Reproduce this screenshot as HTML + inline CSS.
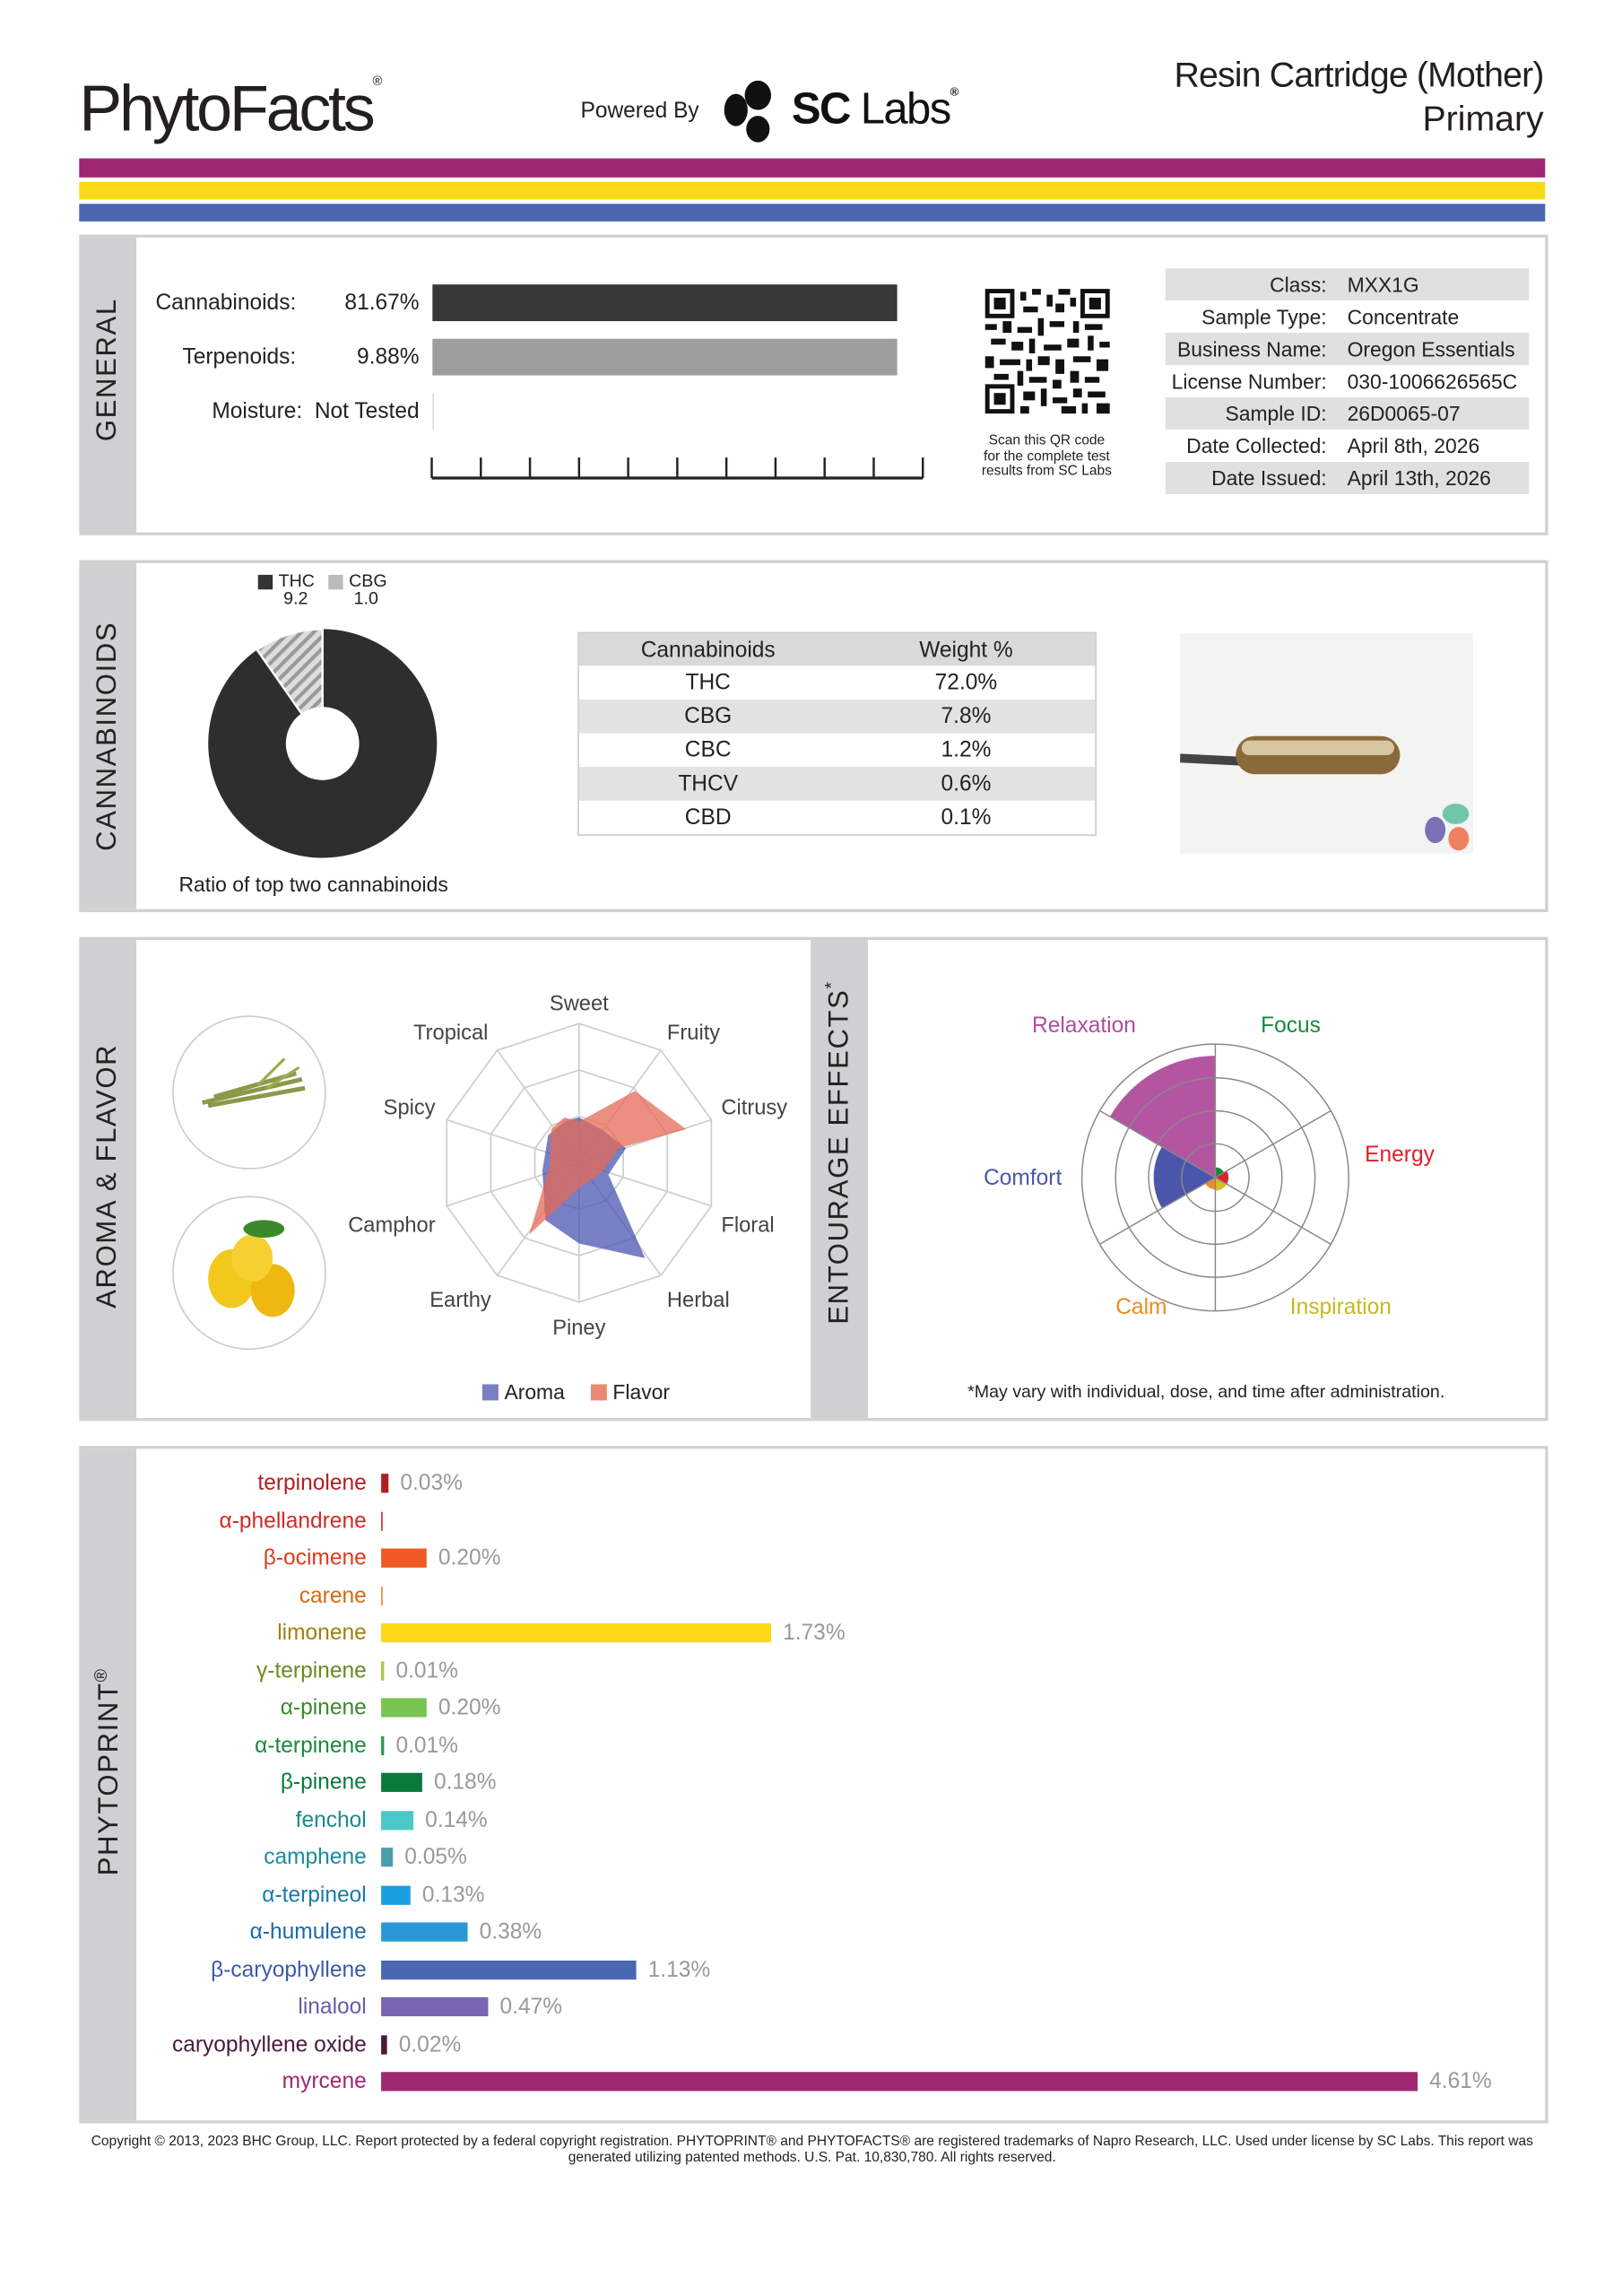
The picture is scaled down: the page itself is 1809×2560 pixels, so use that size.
<!DOCTYPE html>
<html><head><meta charset="utf-8"><style>
body{margin:0;width:1809px;height:2560px;background:#fff;overflow:hidden}
#w{position:absolute;left:0;top:0;width:1106px;height:1566px;transform:scale(1.635);transform-origin:0 0;font-family:"Liberation Sans",sans-serif;color:#222}
.a{position:absolute;white-space:nowrap}
svg{overflow:visible}
.panel{position:absolute;left:54px;width:998px;border:2px solid #d0d0d0;background:#fff}
.strip{position:absolute;left:0;top:0;bottom:0;width:37px;background:#d0d0d3}
.vt{position:absolute;transform:rotate(-90deg);transform-origin:center;font-size:19px;letter-spacing:1px;color:#222;white-space:nowrap}
.r{text-align:right}
</style></head><body><div id="w">
<div class="a" style="left:54px;top:50px;font-size:44px;letter-spacing:-2px;color:#231f20">PhytoFacts<span style="font-size:9px;vertical-align:top">®</span></div>
<div class="a" style="left:396px;top:67px;font-size:15px">Powered By</div>
<svg class="a" style="left:488px;top:54px" width="45" height="45"><ellipse cx="14" cy="21" rx="8" ry="11" fill="#111"/><ellipse cx="29" cy="11" rx="9" ry="10" fill="#111"/><ellipse cx="29" cy="34" rx="8" ry="9" fill="#111"/></svg>
<div class="a" style="left:540px;top:58px;font-size:30px;font-weight:bold;color:#111;letter-spacing:-1px">SC <span style="font-weight:normal">Labs</span><span style="font-size:8px;vertical-align:top">®</span></div>
<div class="a r" style="right:53px;top:38px;font-size:24px;color:#231f20;letter-spacing:-0.5px">Resin Cartridge (Mother)</div>
<div class="a r" style="right:53px;top:68px;font-size:24px;color:#231f20">Primary</div>
<div class="a" style="left:54px;top:108px;width:1000px;height:13px;background:#a02772"></div>
<div class="a" style="left:54px;top:124px;width:1000px;height:12px;background:#fbd914"></div>
<div class="a" style="left:54px;top:139px;width:1000px;height:12px;background:#4b67b1"></div>

<!-- GENERAL -->
<div class="panel" style="top:160px;height:201px"><div class="strip"></div>
<div class="vt" style="left:-22px;top:88px;width:80px;text-align:center">GENERAL</div></div>
<div class="a r" style="left:90px;width:112px;top:198px;font-size:15px">Cannabinoids:</div>
<div class="a r" style="left:220px;width:66px;top:198px;font-size:15px">81.67%</div>
<div class="a" style="left:295px;top:194px;width:317px;height:25px;background:#383838"></div>
<div class="a r" style="left:90px;width:112px;top:235px;font-size:15px">Terpenoids:</div>
<div class="a r" style="left:220px;width:66px;top:235px;font-size:15px">9.88%</div>
<div class="a" style="left:295px;top:231px;width:317px;height:25px;background:#9d9d9d"></div>
<div class="a r" style="left:90px;width:196px;top:272px;font-size:15px">Moisture:&nbsp; Not Tested</div>
<div class="a" style="left:295px;top:268px;width:1px;height:25px;background:#ddd"></div>
<svg class="a" style="left:290px;top:308px" width="345" height="20"><path d="M4.5 18H339.5" stroke="#222" stroke-width="2"/><g stroke="#222" stroke-width="1.5"><path d="M4.5 4V18M38 4V18M71.5 4V18M105 4V18M138.5 4V18M172 4V18M205.5 4V18M239 4V18M272.5 4V18M306 4V18M339.5 4V18"/></g></svg>
<svg class="a" style="left:672px;top:197px" width="85" height="85"><rect width="85" height="85" fill="#fff"/><g fill="#111"><rect x="0" y="0" width="20" height="20"/><rect x="65" y="0" width="20" height="20"/><rect x="0" y="65" width="20" height="20"/></g><g fill="#fff"><rect x="3" y="3" width="14" height="14"/><rect x="68" y="3" width="14" height="14"/><rect x="3" y="68" width="14" height="14"/></g><g fill="#111"><rect x="6" y="6" width="8" height="8"/><rect x="71" y="6" width="8" height="8"/><rect x="6" y="71" width="8" height="8"/>
<path d="M24 2h4v6h-4zM32 0h6v4h-6zM42 4h4v8h-4zM50 0h8v4h-8zM26 12h10v4h-10zM48 10h6v6h-6zM58 6h4v6h-4zM0 24h8v4h-8zM12 22h6v8h-6zM22 26h10v4h-10zM36 20h4v12h-4zM44 22h10v4h-10zM60 22h4v8h-4zM68 24h12v4h-12zM4 34h10v4h-10zM18 36h8v6h-8zM30 34h4v10h-4zM40 38h12v4h-12zM56 34h8v6h-8zM70 32h4v10h-4zM78 36h7v4h-7zM0 46h6v8h-6zM10 48h14v4h-14zM28 48h4v8h-4zM36 46h8v6h-8zM48 48h6v10h-6zM60 46h12v4h-12zM76 48h8v8h-8zM6 58h10v4h-10zM22 56h4v10h-4zM30 60h12v4h-12zM46 62h6v6h-6zM58 56h6v8h-6zM68 60h10v4h-10zM26 70h8v6h-8zM38 68h4v12h-4zM46 74h10v4h-10zM60 68h6v6h-6zM70 70h12v4h-12zM24 80h6v5h-6zM52 80h10v5h-10zM66 78h4v7h-4zM76 78h9v7h-9z"/></g></svg>
<div class="a" style="left:654px;top:296px;width:120px;text-align:center;font-size:9.5px;line-height:10.5px">Scan this QR code<br>for the complete test<br>results from SC Labs</div>
<div class="a" style="left:795px;top:183px;width:248px;height:152px;font-size:14px">
<div style="height:22px;background:#e0e0e0;position:relative"><span class="a r" style="right:138px;top:3px">Class:</span><span class="a" style="left:124px;top:3px">MXX1G</span></div>
<div style="height:22px;position:relative"><span class="a r" style="right:138px;top:3px">Sample Type:</span><span class="a" style="left:124px;top:3px">Concentrate</span></div>
<div style="height:22px;background:#e0e0e0;position:relative"><span class="a r" style="right:138px;top:3px">Business Name:</span><span class="a" style="left:124px;top:3px">Oregon Essentials</span></div>
<div style="height:22px;position:relative"><span class="a r" style="right:138px;top:3px">License Number:</span><span class="a" style="left:124px;top:3px">030-1006626565C</span></div>
<div style="height:22px;background:#e0e0e0;position:relative"><span class="a r" style="right:138px;top:3px">Sample ID:</span><span class="a" style="left:124px;top:3px">26D0065-07</span></div>
<div style="height:22px;position:relative"><span class="a r" style="right:138px;top:3px">Date Collected:</span><span class="a" style="left:124px;top:3px">April 8th, 2026</span></div>
<div style="height:22px;background:#e0e0e0;position:relative"><span class="a r" style="right:138px;top:3px">Date Issued:</span><span class="a" style="left:124px;top:3px">April 13th, 2026</span></div>
</div>

<!-- CANNABINOIDS -->
<div class="panel" style="top:382px;height:236px"><div class="strip"></div>
<div class="vt" style="left:-62px;top:107px;width:160px;text-align:center">CANNABINOIDS</div></div>
<div class="a" style="left:176px;top:392px;width:10px;height:10px;background:#333"></div>
<div class="a" style="left:190px;top:390px;font-size:12px;line-height:12px">THC<br>&nbsp;9.2</div>
<div class="a" style="left:224px;top:392px;width:10px;height:10px;background:#bbb"></div>
<div class="a" style="left:238px;top:390px;font-size:12px;line-height:12px">CBG<br>&nbsp;1.0</div>
<svg class="a" style="left:140px;top:427px" width="160" height="160"><defs><pattern id="h" width="6" height="6" patternUnits="userSpaceOnUse" patternTransform="rotate(45)"><rect width="6" height="6" fill="#ddd"/><rect width="2.5" height="6" fill="#999"/></pattern></defs>
<path d="M80 80L80 2A78 78 0 1 1 35.3 16.1Z" fill="#2e2e2e"/><path d="M80 80L35.3 16.1A78 78 0 0 1 80 2Z" fill="url(#h)" stroke="#fff" stroke-width="1.5"/><circle cx="80" cy="80" r="25" fill="#fff"/></svg>
<div class="a" style="left:122px;top:595px;font-size:14px">Ratio of top two cannabinoids</div>
<div class="a" style="left:394px;top:431px;width:352px;border:1px solid #ccc;font-size:15px">
<div style="height:22px;background:#d9d9d9;position:relative"><span class="a" style="left:0;width:176px;text-align:center;top:3px">Cannabinoids</span><span class="a" style="left:176px;width:176px;text-align:center;top:3px">Weight %</span></div>
<div style="height:23px;position:relative"><span class="a" style="left:0;width:176px;text-align:center;top:3px">THC</span><span class="a" style="left:176px;width:176px;text-align:center;top:3px">72.0%</span></div>
<div style="height:23px;background:#e2e2e2;position:relative"><span class="a" style="left:0;width:176px;text-align:center;top:3px">CBG</span><span class="a" style="left:176px;width:176px;text-align:center;top:3px">7.8%</span></div>
<div style="height:23px;position:relative"><span class="a" style="left:0;width:176px;text-align:center;top:3px">CBC</span><span class="a" style="left:176px;width:176px;text-align:center;top:3px">1.2%</span></div>
<div style="height:23px;background:#e2e2e2;position:relative"><span class="a" style="left:0;width:176px;text-align:center;top:3px">THCV</span><span class="a" style="left:176px;width:176px;text-align:center;top:3px">0.6%</span></div>
<div style="height:23px;position:relative"><span class="a" style="left:0;width:176px;text-align:center;top:3px">CBD</span><span class="a" style="left:176px;width:176px;text-align:center;top:3px">0.1%</span></div>
</div>
<svg class="a" style="left:805px;top:432px" width="200" height="150"><rect width="200" height="150" fill="#f3f3f1"/><path d="M0 82L40 84L40 90L0 88Z" fill="#444"/><rect x="38" y="70" width="112" height="26" rx="13" fill="#8a6a3a"/><rect x="42" y="73" width="104" height="10" rx="5" fill="#d8c6a0"/><ellipse cx="188" cy="123" rx="9" ry="7" fill="#6fc6a8"/><ellipse cx="174" cy="134" rx="7" ry="9" fill="#7a6fb8"/><ellipse cx="190" cy="140" rx="7" ry="8" fill="#f08060"/></svg>

<!-- AROMA -->
<div class="panel" style="top:639px;height:326px"><div class="strip"></div>
<div class="a" style="left:497px;top:0;width:39px;height:326px;background:#d0d0d3"></div>
<div class="vt" style="left:-82px;top:150px;width:200px;text-align:center">AROMA &amp; FLAVOR</div>
<div class="vt" style="left:416px;top:150px;width:200px;text-align:center">ENTOURAGE EFFECTS<sup style="font-size:12px">*</sup></div>
</div>
<svg class="a" style="left:116px;top:692px" width="110" height="232"><circle cx="54" cy="53" r="52" fill="#fff" stroke="#ccc"/><circle cx="54" cy="176" r="52" fill="#fff" stroke="#ccc"/>
<path d="M22 60L90 44M26 62L92 50M30 56L86 40" stroke="#8a9a4a" stroke-width="3"/><path d="M60 48L78 30M66 50L88 36" stroke="#9ab050" stroke-width="2"/>
<ellipse cx="42" cy="180" rx="16" ry="20" fill="#f2c81c"/><ellipse cx="70" cy="188" rx="15" ry="18" fill="#eeb810"/><ellipse cx="56" cy="166" rx="14" ry="16" fill="#f6d030"/><ellipse cx="64" cy="146" rx="14" ry="6" fill="#3a8a2a"/></svg>
<svg class="a" style="left:250px;top:670px" width="300" height="260" font-family="Liberation Sans" font-size="14.5" fill="#444">
<g fill="none" stroke="#ccc" stroke-width="1">
<polygon points="145,28 200.8,46.2 235.3,93.6 235.3,152.4 200.8,199.8 145,218 89.2,199.8 54.7,152.4 54.7,93.6 89.2,46.2"/>
<polygon points="145,59.7 182.3,71.8 205.2,103.4 205.2,142.6 182.3,174.2 145,186.3 107.7,174.2 84.8,142.6 84.8,103.4 107.7,71.8"/>
<polygon points="145,91.3 163.6,97.4 175.1,113.2 175.1,132.8 163.6,148.6 145,154.7 126.4,148.6 114.9,132.8 114.9,113.2 126.4,97.4"/>
<path d="M145 123L145 28M145 123L200.8 46.2M145 123L235.3 93.6M145 123L235.3 152.4M145 123L200.8 199.8M145 123L145 218M145 123L89.2 199.8M145 123L54.7 152.4M145 123L54.7 93.6M145 123L89.2 46.2"/></g>
<polygon points="145,92 160,100 177,113 165,131 190,188 145,178 122,162 120,128 124,104 135,95" fill="#4a55b0" fill-opacity="0.75"/>
<polygon points="145,95 183,74 218,100 172,113 160,130 145,140 111,172 125,125 126,100 135,92" fill="#e56a55" fill-opacity="0.75"/>
<g text-anchor="middle"><text x="145" y="19">Sweet</text><text x="145" y="240">Piney</text></g>
<text x="205" y="39">Fruity</text><text x="242" y="90">Citrusy</text><text x="242" y="170">Floral</text><text x="205" y="221">Herbal</text>
<g text-anchor="end"><text x="83" y="39">Tropical</text><text x="47" y="90">Spicy</text><text x="47" y="170">Camphor</text><text x="85" y="221">Earthy</text></g>
</svg>
<div class="a" style="left:329px;top:944px;width:11px;height:11px;background:#7a80c4"></div>
<div class="a" style="left:344px;top:941px;font-size:14px">Aroma</div>
<div class="a" style="left:403px;top:944px;width:11px;height:11px;background:#ea8a74"></div>
<div class="a" style="left:418px;top:941px;font-size:14px">Flavor</div>
<svg class="a" style="left:640px;top:680px" width="380" height="230" font-family="Liberation Sans" font-size="15">
<g transform="translate(189,123)">
<path d="M0 0L-71.9 -41.5A83 83 0 0 1 0 -83Z" fill="#b04c9c" fill-opacity="0.95"/>
<path d="M0 0L-36.4 21A42 42 0 0 1 -36.4 -21Z" fill="#4a56ab"/>
<path d="M0 0L0 -7A7 7 0 0 1 6 -3.5Z" fill="#1a8a3a"/>
<path d="M0 0L7.8 -4.5A9 9 0 0 1 7.8 4.5Z" fill="#e0202a"/>
<path d="M0 0L7.8 4.5A9 9 0 0 1 0 9Z" fill="#d4c020"/>
<path d="M0 0L0 8A8 8 0 0 1 -6.9 4Z" fill="#f08a1c"/>
<g fill="none" stroke="#888" stroke-width="0.9"><circle r="23"/><circle r="45.5"/><circle r="68"/><circle r="91"/>
<path d="M0 -91V91M-78.8 -45.5L78.8 45.5M-78.8 45.5L78.8 -45.5"/></g></g>
<text x="64" y="24" fill="#b04c9c">Relaxation</text><text x="220" y="24" fill="#1a8a3a">Focus</text>
<text x="291" y="112" fill="#e0202a">Energy</text><text x="31" y="128" fill="#4a56ab">Comfort</text>
<text x="121" y="216" fill="#f08a1c">Calm</text><text x="240" y="216" fill="#c8b820">Inspiration</text></svg>
<div class="a" style="left:660px;top:942px;font-size:12px">*May vary with individual, dose, and time after administration.</div>

<!-- PHYTOPRINT -->
<div class="panel" style="top:986px;height:458px"><div class="strip"></div>
<div class="vt" style="left:-82px;top:208px;width:200px;text-align:center">PHYTOPRINT<sup style="font-size:12px">®</sup></div></div>
<div class="a" style="left:90px;top:1003px;width:910px;font-size:15px">
<div style="position:relative;height:25.5px"><span class="a r" style="right:750px;color:#b01e24">terpinolene</span><span class="a" style="left:170px;top:2px;width:5px;height:13px;background:#b01e24"></span><span class="a" style="left:183px;color:#999">0.03%</span></div>
<div style="position:relative;height:25.5px"><span class="a r" style="right:750px;color:#d02a2a">α-phellandrene</span><span class="a" style="left:170px;top:2px;width:1px;height:13px;background:#d02a2a"></span></div>
<div style="position:relative;height:25.5px"><span class="a r" style="right:750px;color:#e03a1a">β-ocimene</span><span class="a" style="left:170px;top:2px;width:31px;height:13px;background:#ef5a24"></span><span class="a" style="left:209px;color:#999">0.20%</span></div>
<div style="position:relative;height:25.5px"><span class="a r" style="right:750px;color:#d86a10">carene</span><span class="a" style="left:170px;top:2px;width:1px;height:13px;background:#f08a20"></span></div>
<div style="position:relative;height:25.5px"><span class="a r" style="right:750px;color:#a08010">limonene</span><span class="a" style="left:170px;top:2px;width:266px;height:13px;background:#fbd914"></span><span class="a" style="left:444px;color:#999">1.73%</span></div>
<div style="position:relative;height:25.5px"><span class="a r" style="right:750px;color:#6a8a20">γ-terpinene</span><span class="a" style="left:170px;top:2px;width:2px;height:13px;background:#a6c84a"></span><span class="a" style="left:180px;color:#999">0.01%</span></div>
<div style="position:relative;height:25.5px"><span class="a r" style="right:750px;color:#3a8a2a">α-pinene</span><span class="a" style="left:170px;top:2px;width:31px;height:13px;background:#78c450"></span><span class="a" style="left:209px;color:#999">0.20%</span></div>
<div style="position:relative;height:25.5px"><span class="a r" style="right:750px;color:#1a8a3a">α-terpinene</span><span class="a" style="left:170px;top:2px;width:2px;height:13px;background:#2a9a4a"></span><span class="a" style="left:180px;color:#999">0.01%</span></div>
<div style="position:relative;height:25.5px"><span class="a r" style="right:750px;color:#0a7a3a">β-pinene</span><span class="a" style="left:170px;top:2px;width:28px;height:13px;background:#0a7a3a"></span><span class="a" style="left:206px;color:#999">0.18%</span></div>
<div style="position:relative;height:25.5px"><span class="a r" style="right:750px;color:#1a8a8a">fenchol</span><span class="a" style="left:170px;top:2px;width:22px;height:13px;background:#4ac8c8"></span><span class="a" style="left:200px;color:#999">0.14%</span></div>
<div style="position:relative;height:25.5px"><span class="a r" style="right:750px;color:#1a8a9a">camphene</span><span class="a" style="left:170px;top:2px;width:8px;height:13px;background:#4aa0aa"></span><span class="a" style="left:186px;color:#999">0.05%</span></div>
<div style="position:relative;height:25.5px"><span class="a r" style="right:750px;color:#1a7aaa">α-terpineol</span><span class="a" style="left:170px;top:2px;width:20px;height:13px;background:#1aa0e0"></span><span class="a" style="left:198px;color:#999">0.13%</span></div>
<div style="position:relative;height:25.5px"><span class="a r" style="right:750px;color:#1a6aaa">α-humulene</span><span class="a" style="left:170px;top:2px;width:59px;height:13px;background:#2a98d8"></span><span class="a" style="left:237px;color:#999">0.38%</span></div>
<div style="position:relative;height:25.5px"><span class="a r" style="right:750px;color:#3a5aaa">β-caryophyllene</span><span class="a" style="left:170px;top:2px;width:174px;height:13px;background:#4a67b1"></span><span class="a" style="left:352px;color:#999">1.13%</span></div>
<div style="position:relative;height:25.5px"><span class="a r" style="right:750px;color:#6a5aaa">linalool</span><span class="a" style="left:170px;top:2px;width:73px;height:13px;background:#7a64b4"></span><span class="a" style="left:251px;color:#999">0.47%</span></div>
<div style="position:relative;height:25.5px"><span class="a r" style="right:750px;color:#4a1a3a">caryophyllene oxide</span><span class="a" style="left:170px;top:2px;width:4px;height:13px;background:#4a1a3a"></span><span class="a" style="left:182px;color:#999">0.02%</span></div>
<div style="position:relative;height:25.5px"><span class="a r" style="right:750px;color:#a02772">myrcene</span><span class="a" style="left:170px;top:2px;width:707px;height:13px;background:#a02772"></span><span class="a" style="left:885px;color:#999">4.61%</span></div>
</div>
<div class="a" style="left:54px;top:1456px;width:1000px;text-align:center;font-size:9.5px;line-height:10.5px;white-space:normal">Copyright © 2013, 2023 BHC Group, LLC. Report protected by a federal copyright registration. PHYTOPRINT® and PHYTOFACTS® are registered trademarks of Napro Research, LLC. Used under license by SC Labs. This report was generated utilizing patented methods. U.S. Pat. 10,830,780. All rights reserved.</div>
</div></body></html>
